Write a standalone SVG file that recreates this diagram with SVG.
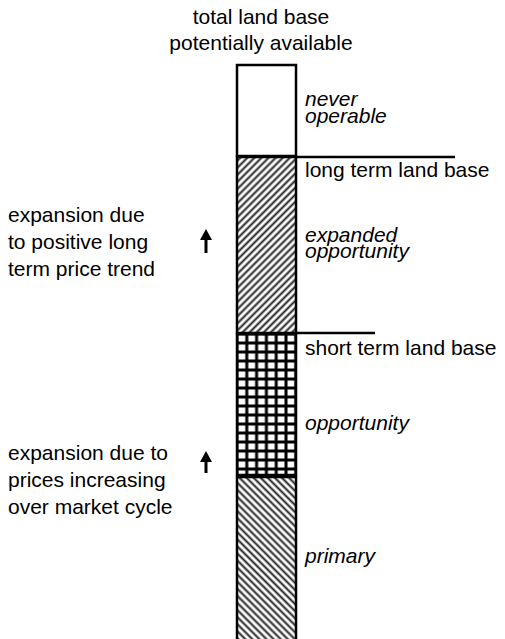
<svg xmlns="http://www.w3.org/2000/svg" width="505" height="639" viewBox="0 0 505 639">
<style>
text{font-family:"Liberation Sans",Arial,sans-serif;font-size:21px;fill:#000}
.it{font-style:italic}
.seg{stroke:#000;stroke-width:2.5}
.rule{stroke:#000;stroke-width:2.5}
.arrow{stroke:#000;stroke-width:3;fill:none;marker-end:url(#ah)}
</style>
<defs>
<pattern id="fwd" width="5" height="5" patternUnits="userSpaceOnUse" patternTransform="rotate(45)">
<rect width="5" height="5" fill="#fff"/>
<line x1="1.5" y1="0" x2="1.5" y2="5" stroke="#222" stroke-width="2"/>
</pattern>
<pattern id="bwd" width="5" height="5" patternUnits="userSpaceOnUse" patternTransform="rotate(-45)">
<rect width="5" height="5" fill="#fff"/>
<line x1="1.5" y1="0" x2="1.5" y2="5" stroke="#222" stroke-width="2"/>
</pattern>
<pattern id="grid" x="237" y="334" width="9.8" height="9" patternUnits="userSpaceOnUse">
<rect width="9.8" height="9" fill="#fff"/>
<path d="M0,0H9.8M0,9H9.8M0,0V9M9.8,0V9" stroke="#000" stroke-width="3"/>
</pattern>
<marker id="ah" markerUnits="userSpaceOnUse" markerWidth="12" markerHeight="12" refX="2" refY="6" orient="auto">
<path d="M0,0L11,6L0,12z" fill="#000"/>
</marker>
</defs>

<g id="title">
<text x="261" y="24" text-anchor="middle">total land base</text>
<text x="261" y="50" text-anchor="middle">potentially available</text>
</g>

<g id="never-operable">
<rect class="seg" x="237" y="65" width="59" height="91" fill="#fff"/>
<text class="it" x="305" y="106">never</text>
<text class="it" x="305" y="123">operable</text>
</g>

<g id="expanded-opportunity">
<rect class="seg" x="237" y="157" width="59" height="176" fill="url(#fwd)"/>
<text class="it" x="305" y="242">expanded</text>
<text class="it" x="305" y="258">opportunity</text>
</g>

<g id="opportunity">
<rect class="seg" x="237" y="334" width="59" height="141" fill="url(#grid)"/>
<text class="it" x="305" y="430">opportunity</text>
</g>

<g id="primary">
<rect class="seg" x="237" y="477" width="59" height="175" fill="url(#bwd)"/>
<text class="it" x="305" y="563">primary</text>
</g>

<g id="long-term-label">
<text x="305" y="177">long term land base</text>
</g>
<g id="short-term-label">
<text x="305" y="355">short term land base</text>
</g>

<g id="long-term-note">
<text x="8" y="222">expansion due</text>
<text x="8" y="249">to positive long</text>
<text x="8" y="276">term price trend</text>
</g>
<g id="short-term-note">
<text x="8" y="460">expansion due to</text>
<text x="8" y="487">prices increasing</text>
<text x="8" y="514">over market cycle</text>
</g>

<g id="connectors">
<line class="rule" x1="296" y1="157" x2="455" y2="157"/>
<line class="rule" x1="296" y1="333" x2="375" y2="333"/>
<line class="arrow" x1="206" y1="253" x2="206" y2="238"/>
<line class="arrow" x1="206" y1="473" x2="206" y2="460"/>
</g>
</svg>
